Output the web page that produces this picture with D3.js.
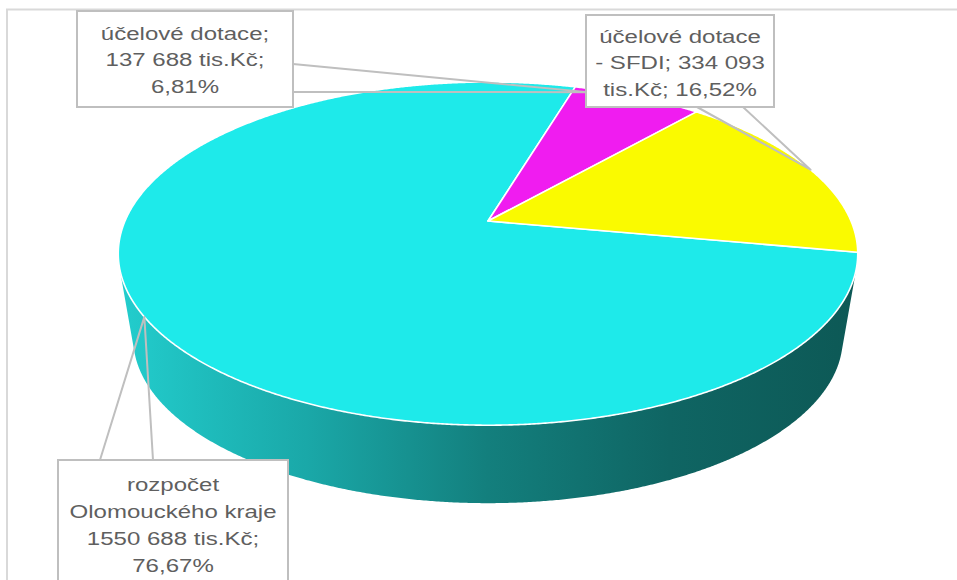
<!DOCTYPE html>
<html>
<head>
<meta charset="utf-8">
<script src="https://cdn.jsdelivr.net/npm/d3@7"></script>
<style>
  body { margin: 0; background: #fff; }
  svg { display: block; }
</style>
</head>
<body>
<div id="chart"></div>
<script>
// data
const categories = ["rozpočet Olomouckého kraje", "účelové dotace", "účelové dotace - SFDI"];
const values = [1550688, 137688, 334093];
const labelLines = [
    ["rozpočet", "Olomouckého kraje", "1550 688 tis.Kč;", "76,67%"],
    ["účelové dotace;", "137 688 tis.Kč;", "6,81%"],
    ["účelové dotace", "- SFDI; 334 093", "tis.Kč; 16,52%"]
];
const colors = ["#1eeaea", "#f01cf0", "#fafa00"];

const width = 957, height = 580;

// 3D pie geometry (perspective of a tilted disc)
const cx = 488, cy = 221, rx = 363, ry = 165.4, persp = 0.19;
const vanish = [488, 2350], depthScale = 0.9595;
const startAngle = 100.5 * Math.PI / 180;

// callout boxes, one per slice (same order as categories)
const boxes = [
    { x: 58, y: 460, w: 230, h: 160, base: [[100, 460], [153, 460]], tipT: 0.5, tipR: 1, lineX: 173, lineY: [491, 518, 545, 572] },
    { x: 77, y: 11, w: 216, h: 96, base: [[293, 64], [293, 92]], tipT: 0.12, tipR: 0.97, lineX: 185, lineY: [40, 66.5, 93] },
    { x: 586, y: 15, w: 188, h: 92, base: [[697, 107], [743, 107]], tipT: 0.5, tipR: 1, lineX: 680, lineY: [43, 69.5, 96] }
];

function proj(t, r = 1, bottom = false) {
    const u = r * Math.sin(t), v = -r * Math.cos(t);
    const w = 1 - persp * v;
    let x = cx + rx * u / w, y = cy + ry * v / w;
    if (bottom) {
        x = vanish[0] + (x - vanish[0]) * depthScale;
        y = vanish[1] + (y - vanish[1]) * depthScale;
    }
    return [x, y];
}

function arcPoints(a0, a1, bottom) {
    const n = Math.max(2, Math.ceil(Math.abs(a1 - a0) / 0.005));
    return d3.range(n + 1).map(i => proj(a0 + (a1 - a0) * i / n, 1, bottom));
}

// find where the rim's outline is tangent to lines from the vanishing point
function silhouette(lo, hi) {
    const f = t => {
        const p = proj(t), q = proj(t + 1e-4);
        const dx = q[0] - p[0], dy = q[1] - p[1];
        return dx * (p[1] - vanish[1]) - dy * (p[0] - vanish[0]);
    };
    let flo = f(lo);
    for (let i = 0; i < 60; i++) {
        const m = (lo + hi) / 2, fm = f(m);
        if (Math.sign(fm) === Math.sign(flo)) { lo = m; flo = fm; } else hi = m;
    }
    return (lo + hi) / 2;
}
const visR = silhouette(Math.PI * 0.3, Math.PI * 0.8);
const visL = 2 * Math.PI - visR;

const pie = d3.pie().sort(null).value(d => d)
    .startAngle(startAngle).endAngle(startAngle + 2 * Math.PI);
const arcs = pie(values);
const color = d3.scaleOrdinal().domain(categories).range(colors);
const line = d3.line();

const svg = d3.select("#chart").append("svg")
    .attr("width", width).attr("height", height);

// side shading
const grad = svg.append("defs").append("linearGradient")
    .attr("id", "sideGrad")
    .attr("gradientUnits", "userSpaceOnUse")
    .attr("x1", cx - rx).attr("x2", cx + rx).attr("y1", 0).attr("y2", 0);
[[0, "#22cccc"], [0.25, "#1aa8a8"], [0.5, "#137f7d"], [0.75, "#0f6563"], [1, "#0d5956"]]
    .forEach(s => grad.append("stop").attr("offset", s[0]).attr("stop-color", s[1]));

// chart area border
svg.append("rect")
    .attr("x", 7).attr("y", 9.5)
    .attr("width", 980).attr("height", 620)
    .attr("fill", "none")
    .attr("stroke", "#d9d9d9")
    .attr("stroke-width", 2);

// outer walls of the slices, front part only
const sides = svg.append("g");
arcs.forEach((d, i) => {
    [-2 * Math.PI, 0, 2 * Math.PI].forEach(shift => {
        const b0 = Math.max(d.startAngle + shift, visR);
        const b1 = Math.min(d.endAngle + shift, visL);
        if (b1 <= b0) return;
        const pts = arcPoints(b0, b1, false).concat(arcPoints(b1, b0, true));
        sides.append("path")
            .attr("d", line(pts) + "Z")
            .attr("fill", i === 0 ? "url(#sideGrad)" : d3.color(color(categories[i])).darker(1.2));
    });
});

// top faces
svg.append("g").selectAll("path")
    .data(arcs)
    .join("path")
    .attr("d", d => line([[cx, cy]].concat(arcPoints(d.startAngle, d.endAngle, false))) + "Z")
    .attr("fill", (d, i) => color(categories[i]))
    .attr("stroke", "#fff")
    .attr("stroke-width", 1.6)
    .attr("stroke-linejoin", "round");

// callout labels
const labels = svg.append("g");
boxes.forEach((b, i) => {
    const d = arcs[i];
    const tip = proj(d.startAngle + (d.endAngle - d.startAngle) * b.tipT, b.tipR);

    labels.append("rect")
        .attr("x", b.x).attr("y", b.y)
        .attr("width", b.w).attr("height", b.h)
        .attr("fill", "#fff")
        .attr("stroke", "#bfbfbf")
        .attr("stroke-width", 2);

    labels.append("path")
        .attr("d", line([b.base[0], tip, b.base[1]]))
        .attr("fill", "none")
        .attr("stroke", "#bfbfbf")
        .attr("stroke-width", 2)
        .attr("stroke-linejoin", "round");

    // the original text is stretched sideways
    const tg = labels.append("g").attr("transform", `translate(${b.lineX},0) scale(1.3,1)`);
    labelLines[i].forEach((t, j) => {
        tg.append("text")
            .attr("x", 0).attr("y", b.lineY[j])
            .attr("text-anchor", "middle")
            .attr("font-family", "'Liberation Sans', Arial, sans-serif")
            .attr("font-size", "18.5px")
            .attr("fill", "#5f5f5f")
            .text(t);
    });
});
</script>
</body>
</html>
